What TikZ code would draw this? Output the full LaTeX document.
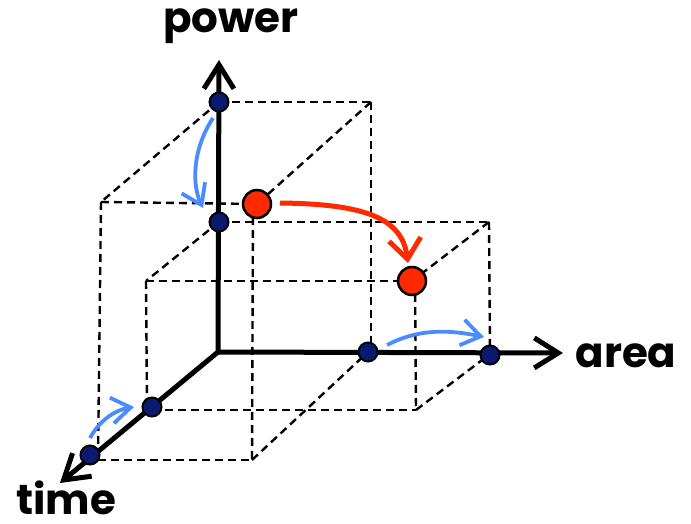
\documentclass[tikz,border=0pt]{standalone}
\usepackage{fontspec}
\setmainfont{Poppins}
\usetikzlibrary{arrows.meta}
\definecolor{dotblue}{HTML}{0A1A70}
\definecolor{dotred}{HTML}{FF2A00}
\definecolor{arrblue}{HTML}{4A8CFF}
\tikzset{
  dash line/.style={draw=black,line width=2.4pt,dash pattern=on 8pt off 5pt},
  axis/.style={draw=black,line width=5pt,-{Straight Barb[length=24pt,width=30pt,line width=5pt]}},
  bdot/.style={circle,fill=dotblue,draw=black,line width=2pt,minimum size=19pt,inner sep=0pt},
  rdot/.style={circle,fill=dotred,draw=black,line width=2.5pt,minimum size=28pt,inner sep=0pt},
  barrow/.style={draw=arrblue,line width=3.8pt,-{Straight Barb[length=19pt,width=26pt,line width=3.8pt]}},
  rarrow/.style={draw=dotred,line width=5pt,-{Straight Barb[length=20pt,width=32pt,line width=5pt]}},
  lbl/.style={font=\fontsize{42}{44}\selectfont\bfseries,inner sep=0pt}
}
\begin{document}
\begin{tikzpicture}[x=1pt,y=-1pt]
\useasboundingbox (0,0) rectangle (691,524);
% points
\coordinate (O) at (218,352);
\coordinate (C1) at (371,102);
\coordinate (C2) at (101,202);
\coordinate (C3) at (98,460);
\coordinate (C4) at (252,460);
\coordinate (D1) at (489,222);
\coordinate (D2) at (146,281);
\coordinate (D3) at (416,410);
\coordinate (PT) at (219,60);
\coordinate (AT) at (563,353);
\coordinate (TT) at (60,483);
% dashed box 1
\draw[dash line] (219,102) -- (C1);
\draw[dash line] (219,102) -- (C2);
\draw[dash line] (C1) -- (257,204);
\draw[dash line] (C2) -- (257,204);
\draw[dash line] (C2) -- (C3);
\draw[dash line] (C1) -- (371,352);
\draw[dash line] (253,204) -- (C4);
\draw[dash line] (C3) -- (C4);
\draw[dash line] (C4) -- (368,352);
% dashed box 2
\draw[dash line] (219,222) -- (D1);
\draw[dash line] (219,222) -- (D2);
\draw[dash line] (D1) -- (412,281);
\draw[dash line] (D2) -- (412,281);
\draw[dash line] (D2) -- (147,407);
\draw[dash line] (D1) -- (490,354);
\draw[dash line] (415,281) -- (D3);
\draw[dash line] (152,410) -- (D3);
\draw[dash line] (D3) -- (490,354);
% axes
\draw[axis] (O) -- (PT);
\draw[axis] (O) -- (AT);
\draw[axis] (O) -- (TT);
% dots
\node[bdot] (P2) at (219,102) {};
\node[bdot] (P1) at (219,222) {};
\node[bdot] (A1) at (368,352) {};
\node[bdot] (A2) at (490,355) {};
\node[bdot] (T1) at (152,407) {};
\node[bdot] (T2) at (90,455) {};
\node[rdot] (R1) at (257,204) {};
\node[rdot] (R2) at (412,281) {};
% arrows
\coordinate (b1s) at (213,118);
\coordinate (b1e) at (203,208);
\draw[barrow] (b1s) .. controls (192,150) and (192,185) .. (b1e);
\coordinate (b2s) at (387,345);
\coordinate (b2e) at (484,337);
\draw[barrow] (b2s) .. controls (420,328) and (450,330) .. (b2e);
\coordinate (b3s) at (90,438);
\coordinate (b3e) at (134,407);
\draw[barrow] (b3s) .. controls (100,420) and (115,410) .. (b3e);
\coordinate (rs) at (280,203);
\coordinate (re) at (408,263);
\draw[rarrow] (rs) .. controls (365,204) and (402,218) .. (re);
% labels
\node[lbl] (lp) at (231,26) {power};
\node[lbl] (la) at (626,356) {area};
\node[lbl] (lt) at (66,498) {time};
\end{tikzpicture}
\end{document}
